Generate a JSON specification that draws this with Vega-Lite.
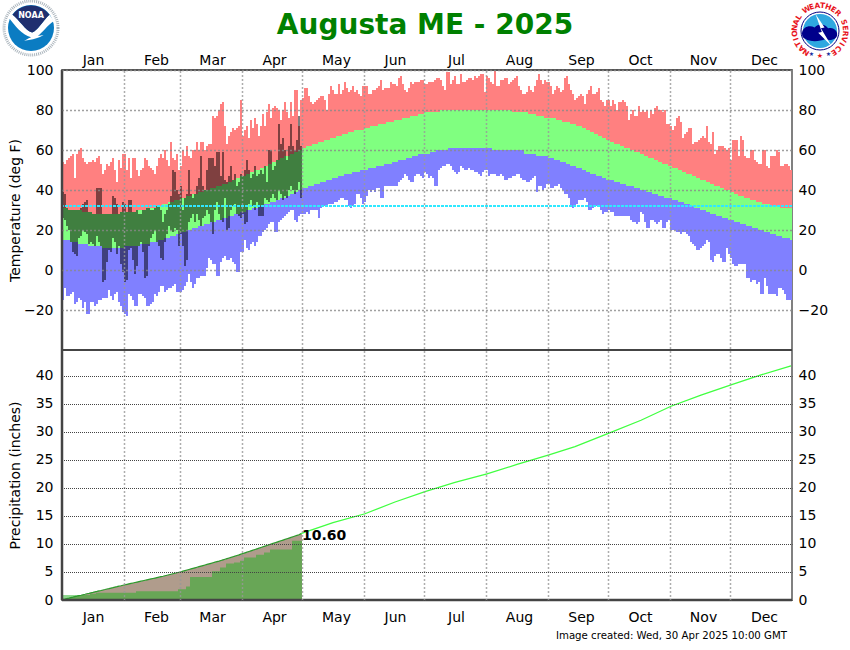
{
"$schema":"https://vega.github.io/schema/vega-lite/v6.json",
"autosize":{"type":"none"},
"width":730,"height":530,
"padding":{"left":62,"top":70,"right":58,"bottom":50},
"background":"white",
"title":{"text":"Augusta ME - 2025","anchor":"middle","frame":"group","fontSize":28,"fontWeight":"bold","font":"DejaVu Sans","color":"#008000","offset":-45,"dx":-2},
"config":{"font":"DejaVu Sans","view":{"stroke":"#808080","strokeWidth":2},"axis":{"labelFontSize":14,"labelColor":"#000000","titleFontSize":14,"titleFontWeight":"normal","titleColor":"#000000","domain":false,"ticks":false,"labelFlush":false,"labelOverlap":false}},
"datasets":{
"temps":[
{"d":1,"rh":54,"nh":31,"nl":15,"rl":-15},{"d":2,"rh":53,"nh":31,"nl":15,"rl":-9},{"d":3,"rh":55,"nh":31,"nl":15,"rl":-13},{"d":4,"rh":56,"nh":30,"nl":15,"rl":-13},{"d":5,"rh":57,"nh":30,"nl":14,"rl":-12},{"d":6,"rh":58,"nh":30,"nl":14,"rl":-11},{"d":7,"rh":46,"nh":30,"nl":14,"rl":-17},{"d":8,"rh":58,"nh":30,"nl":14,"rl":-16},{"d":9,"rh":60,"nh":30,"nl":13,"rl":-14},{"d":10,"rh":61,"nh":30,"nl":13,"rl":-15},
{"d":11,"rh":56,"nh":29,"nl":13,"rl":-19},{"d":12,"rh":54,"nh":29,"nl":13,"rl":-16},{"d":13,"rh":53,"nh":29,"nl":13,"rl":-22},{"d":14,"rh":54,"nh":29,"nl":12,"rl":-22},{"d":15,"rh":54,"nh":29,"nl":12,"rl":-16},{"d":16,"rh":55,"nh":28,"nl":12,"rl":-16},{"d":17,"rh":54,"nh":28,"nl":12,"rl":-18},{"d":18,"rh":56,"nh":28,"nl":12,"rl":-17},{"d":19,"rh":57,"nh":28,"nl":12,"rl":-15},{"d":20,"rh":53,"nh":28,"nl":12,"rl":-15},
{"d":21,"rh":48,"nh":28,"nl":11,"rl":-14},{"d":22,"rh":50,"nh":28,"nl":11,"rl":-14},{"d":23,"rh":53,"nh":28,"nl":11,"rl":-14},{"d":24,"rh":52,"nh":28,"nl":11,"rl":-10},{"d":25,"rh":54,"nh":28,"nl":11,"rl":-13},{"d":26,"rh":56,"nh":28,"nl":11,"rl":-15},{"d":27,"rh":50,"nh":28,"nl":11,"rl":-12},{"d":28,"rh":44,"nh":28,"nl":11,"rl":-11},{"d":29,"rh":55,"nh":28,"nl":11,"rl":-16},{"d":30,"rh":51,"nh":29,"nl":11,"rl":-18},{"d":31,"rh":58,"nh":29,"nl":11,"rl":-21},
{"d":32,"rh":58,"nh":29,"nl":12,"rl":-22},{"d":33,"rh":50,"nh":29,"nl":12,"rl":-23},{"d":34,"rh":56,"nh":29,"nl":12,"rl":-12},{"d":35,"rh":46,"nh":29,"nl":12,"rl":-13},{"d":36,"rh":56,"nh":29,"nl":12,"rl":-15},{"d":37,"rh":56,"nh":29,"nl":12,"rl":-18},{"d":38,"rh":50,"nh":30,"nl":12,"rl":-18},{"d":39,"rh":47,"nh":30,"nl":12,"rl":-12},{"d":40,"rh":50,"nh":30,"nl":13,"rl":-12},{"d":41,"rh":51,"nh":30,"nl":13,"rl":-13},
{"d":42,"rh":56,"nh":30,"nl":13,"rl":-14},{"d":43,"rh":55,"nh":31,"nl":13,"rl":-18},{"d":44,"rh":52,"nh":31,"nl":13,"rl":-18},{"d":45,"rh":51,"nh":31,"nl":14,"rl":-17},{"d":46,"rh":50,"nh":31,"nl":14,"rl":-16},{"d":47,"rh":48,"nh":31,"nl":14,"rl":-12},{"d":48,"rh":52,"nh":32,"nl":14,"rl":-13},{"d":49,"rh":56,"nh":32,"nl":15,"rl":-11},{"d":50,"rh":58,"nh":32,"nl":15,"rl":-8},{"d":51,"rh":56,"nh":33,"nl":15,"rl":-8},
{"d":52,"rh":60,"nh":33,"nl":16,"rl":-11},{"d":53,"rh":55,"nh":33,"nl":16,"rl":-10},{"d":54,"rh":52,"nh":34,"nl":16,"rl":-9},{"d":55,"rh":64,"nh":34,"nl":17,"rl":-9},{"d":56,"rh":56,"nh":34,"nl":17,"rl":-8},{"d":57,"rh":55,"nh":35,"nl":17,"rl":-7},{"d":58,"rh":58,"nh":35,"nl":18,"rl":-11},{"d":59,"rh":50,"nh":35,"nl":18,"rl":-11},
{"d":60,"rh":52,"nh":36,"nl":19,"rl":-11},{"d":61,"rh":60,"nh":36,"nl":19,"rl":-10},{"d":62,"rh":57,"nh":36,"nl":19,"rl":-8},{"d":63,"rh":62,"nh":37,"nl":20,"rl":-6},{"d":64,"rh":57,"nh":37,"nl":20,"rl":-2},{"d":65,"rh":56,"nh":37,"nl":20,"rl":-6},{"d":66,"rh":60,"nh":38,"nl":21,"rl":-9},{"d":67,"rh":60,"nh":38,"nl":21,"rl":-7},{"d":68,"rh":64,"nh":38,"nl":21,"rl":-4},{"d":69,"rh":60,"nh":39,"nl":22,"rl":-4},
{"d":70,"rh":64,"nh":39,"nl":22,"rl":-3},{"d":71,"rh":64,"nh":39,"nl":22,"rl":-3},{"d":72,"rh":60,"nh":40,"nl":23,"rl":-3},{"d":73,"rh":62,"nh":40,"nl":23,"rl":1},{"d":74,"rh":63,"nh":40,"nl":23,"rl":6},{"d":75,"rh":63,"nh":41,"nl":24,"rl":5},{"d":76,"rh":77,"nh":41,"nl":24,"rl":3},{"d":77,"rh":76,"nh":41,"nl":24,"rl":3},{"d":78,"rh":77,"nh":42,"nl":25,"rl":-3},{"d":79,"rh":80,"nh":42,"nl":25,"rl":-3},
{"d":80,"rh":83,"nh":42,"nl":25,"rl":4},{"d":81,"rh":84,"nh":43,"nl":26,"rl":6},{"d":82,"rh":72,"nh":43,"nl":26,"rl":7},{"d":83,"rh":63,"nh":43,"nl":26,"rl":5},{"d":84,"rh":67,"nh":44,"nl":27,"rl":5},{"d":85,"rh":69,"nh":44,"nl":27,"rl":6},{"d":86,"rh":71,"nh":45,"nl":27,"rl":4},{"d":87,"rh":70,"nh":45,"nl":28,"rl":3},{"d":88,"rh":71,"nh":46,"nl":28,"rl":-1},{"d":89,"rh":72,"nh":46,"nl":28,"rl":-1},{"d":90,"rh":85,"nh":47,"nl":29,"rl":9},
{"d":91,"rh":67,"nh":47,"nl":29,"rl":9},{"d":92,"rh":70,"nh":47,"nl":29,"rl":15},{"d":93,"rh":72,"nh":48,"nl":30,"rl":11},{"d":94,"rh":66,"nh":48,"nl":30,"rl":10},{"d":95,"rh":75,"nh":49,"nl":30,"rl":13},{"d":96,"rh":71,"nh":49,"nl":31,"rl":14},{"d":97,"rh":76,"nh":50,"nl":31,"rl":12},{"d":98,"rh":73,"nh":50,"nl":31,"rl":14},{"d":99,"rh":67,"nh":50,"nl":32,"rl":17},{"d":100,"rh":72,"nh":51,"nl":32,"rl":17},
{"d":101,"rh":78,"nh":51,"nl":32,"rl":19},{"d":102,"rh":72,"nh":52,"nl":33,"rl":20},{"d":103,"rh":79,"nh":52,"nl":33,"rl":21},{"d":104,"rh":83,"nh":53,"nl":33,"rl":23},{"d":105,"rh":76,"nh":53,"nl":34,"rl":24},{"d":106,"rh":81,"nh":54,"nl":34,"rl":24},{"d":107,"rh":82,"nh":54,"nl":34,"rl":19},{"d":108,"rh":81,"nh":55,"nl":35,"rl":19},{"d":109,"rh":80,"nh":55,"nl":35,"rl":24},{"d":110,"rh":75,"nh":56,"nl":36,"rl":25},
{"d":111,"rh":80,"nh":56,"nl":36,"rl":26},{"d":112,"rh":84,"nh":57,"nl":36,"rl":27},{"d":113,"rh":79,"nh":57,"nl":37,"rl":28},{"d":114,"rh":76,"nh":57,"nl":37,"rl":29},{"d":115,"rh":84,"nh":58,"nl":38,"rl":30},{"d":116,"rh":77,"nh":58,"nl":38,"rl":30},{"d":117,"rh":90,"nh":59,"nl":39,"rl":25},{"d":118,"rh":90,"nh":59,"nl":39,"rl":24},{"d":119,"rh":72,"nh":60,"nl":40,"rl":27},{"d":120,"rh":85,"nh":60,"nl":40,"rl":28},
{"d":121,"rh":86,"nh":61,"nl":41,"rl":28},{"d":122,"rh":91,"nh":61,"nl":41,"rl":28},{"d":123,"rh":91,"nh":62,"nl":41,"rl":29},{"d":124,"rh":87,"nh":62,"nl":42,"rl":28},{"d":125,"rh":84,"nh":62,"nl":42,"rl":30},{"d":126,"rh":83,"nh":63,"nl":42,"rl":30},{"d":127,"rh":84,"nh":63,"nl":43,"rl":30},{"d":128,"rh":85,"nh":63,"nl":43,"rl":30},{"d":129,"rh":86,"nh":64,"nl":43,"rl":26},{"d":130,"rh":87,"nh":64,"nl":44,"rl":31},
{"d":131,"rh":87,"nh":64,"nl":44,"rl":32},{"d":132,"rh":85,"nh":65,"nl":44,"rl":32},{"d":133,"rh":80,"nh":65,"nl":45,"rl":32},{"d":134,"rh":88,"nh":65,"nl":45,"rl":33},{"d":135,"rh":92,"nh":66,"nl":45,"rl":33},{"d":136,"rh":90,"nh":66,"nl":46,"rl":33},{"d":137,"rh":88,"nh":66,"nl":46,"rl":34},{"d":138,"rh":88,"nh":67,"nl":46,"rl":34},{"d":139,"rh":93,"nh":67,"nl":47,"rl":35},{"d":140,"rh":88,"nh":67,"nl":47,"rl":36},
{"d":141,"rh":90,"nh":68,"nl":47,"rl":36},{"d":142,"rh":94,"nh":68,"nl":48,"rl":35},{"d":143,"rh":91,"nh":68,"nl":48,"rl":35},{"d":144,"rh":89,"nh":69,"nl":48,"rl":32},{"d":145,"rh":90,"nh":69,"nl":48,"rl":31},{"d":146,"rh":92,"nh":69,"nl":49,"rl":32},{"d":147,"rh":89,"nh":70,"nl":49,"rl":33},{"d":148,"rh":90,"nh":70,"nl":49,"rl":38},{"d":149,"rh":88,"nh":70,"nl":49,"rl":38},{"d":150,"rh":87,"nh":70,"nl":50,"rl":36},{"d":151,"rh":92,"nh":70,"nl":50,"rl":33},
{"d":152,"rh":92,"nh":71,"nl":50,"rl":34},{"d":153,"rh":92,"nh":71,"nl":50,"rl":37},{"d":154,"rh":88,"nh":71,"nl":51,"rl":40},{"d":155,"rh":88,"nh":72,"nl":51,"rl":39},{"d":156,"rh":90,"nh":72,"nl":51,"rl":40},{"d":157,"rh":90,"nh":72,"nl":51,"rl":39},{"d":158,"rh":91,"nh":72,"nl":52,"rl":41},{"d":159,"rh":92,"nh":73,"nl":52,"rl":41},{"d":160,"rh":95,"nh":73,"nl":52,"rl":36},{"d":161,"rh":90,"nh":73,"nl":52,"rl":36},
{"d":162,"rh":91,"nh":73,"nl":53,"rl":42},{"d":163,"rh":91,"nh":74,"nl":53,"rl":42},{"d":164,"rh":91,"nh":74,"nl":53,"rl":42},{"d":165,"rh":94,"nh":74,"nl":53,"rl":42},{"d":166,"rh":93,"nh":74,"nl":54,"rl":42},{"d":167,"rh":93,"nh":75,"nl":54,"rl":42},{"d":168,"rh":92,"nh":75,"nl":54,"rl":42},{"d":169,"rh":96,"nh":75,"nl":55,"rl":44},{"d":170,"rh":97,"nh":75,"nl":55,"rl":45},{"d":171,"rh":93,"nh":76,"nl":55,"rl":46},
{"d":172,"rh":90,"nh":76,"nl":55,"rl":48},{"d":173,"rh":89,"nh":76,"nl":56,"rl":47},{"d":174,"rh":91,"nh":76,"nl":56,"rl":45},{"d":175,"rh":94,"nh":77,"nl":56,"rl":44},{"d":176,"rh":93,"nh":77,"nl":57,"rl":44},{"d":177,"rh":94,"nh":77,"nl":57,"rl":47},{"d":178,"rh":94,"nh":77,"nl":57,"rl":48},{"d":179,"rh":94,"nh":78,"nl":58,"rl":48},{"d":180,"rh":95,"nh":78,"nl":58,"rl":47},{"d":181,"rh":95,"nh":78,"nl":58,"rl":46},
{"d":182,"rh":93,"nh":79,"nl":58,"rl":49},{"d":183,"rh":93,"nh":79,"nl":58,"rl":48},{"d":184,"rh":94,"nh":79,"nl":58,"rl":46},{"d":185,"rh":94,"nh":79,"nl":59,"rl":47},{"d":186,"rh":94,"nh":79,"nl":59,"rl":46},{"d":187,"rh":95,"nh":79,"nl":59,"rl":42},{"d":188,"rh":96,"nh":79,"nl":60,"rl":42},{"d":189,"rh":96,"nh":79,"nl":60,"rl":50},{"d":190,"rh":95,"nh":80,"nl":60,"rl":51},{"d":191,"rh":92,"nh":80,"nl":60,"rl":52},
{"d":192,"rh":90,"nh":80,"nl":60,"rl":52},{"d":193,"rh":99,"nh":80,"nl":60,"rl":53},{"d":194,"rh":99,"nh":80,"nl":61,"rl":53},{"d":195,"rh":93,"nh":80,"nl":61,"rl":52},{"d":196,"rh":95,"nh":80,"nl":61,"rl":50},{"d":197,"rh":97,"nh":80,"nl":61,"rl":49},{"d":198,"rh":93,"nh":80,"nl":61,"rl":48},{"d":199,"rh":93,"nh":80,"nl":61,"rl":49},{"d":200,"rh":98,"nh":80,"nl":61,"rl":52},{"d":201,"rh":94,"nh":80,"nl":61,"rl":51},
{"d":202,"rh":94,"nh":80,"nl":61,"rl":50},{"d":203,"rh":95,"nh":80,"nl":61,"rl":50},{"d":204,"rh":96,"nh":80,"nl":61,"rl":51},{"d":205,"rh":96,"nh":80,"nl":61,"rl":50},{"d":206,"rh":95,"nh":80,"nl":61,"rl":50},{"d":207,"rh":97,"nh":80,"nl":61,"rl":49},{"d":208,"rh":96,"nh":80,"nl":61,"rl":49},{"d":209,"rh":97,"nh":80,"nl":61,"rl":48},{"d":210,"rh":98,"nh":80,"nl":61,"rl":47},{"d":211,"rh":98,"nh":80,"nl":61,"rl":49},{"d":212,"rh":89,"nh":80,"nl":61,"rl":50},
{"d":213,"rh":97,"nh":80,"nl":61,"rl":50},{"d":214,"rh":96,"nh":80,"nl":61,"rl":47},{"d":215,"rh":94,"nh":80,"nl":61,"rl":48},{"d":216,"rh":93,"nh":80,"nl":60,"rl":48},{"d":217,"rh":100,"nh":80,"nl":60,"rl":48},{"d":218,"rh":92,"nh":80,"nl":60,"rl":47},{"d":219,"rh":92,"nh":80,"nl":60,"rl":47},{"d":220,"rh":95,"nh":80,"nl":60,"rl":48},{"d":221,"rh":95,"nh":80,"nl":60,"rl":47},{"d":222,"rh":96,"nh":80,"nl":60,"rl":45},
{"d":223,"rh":96,"nh":80,"nl":60,"rl":45},{"d":224,"rh":93,"nh":80,"nl":60,"rl":46},{"d":225,"rh":94,"nh":80,"nl":60,"rl":46},{"d":226,"rh":95,"nh":79,"nl":60,"rl":47},{"d":227,"rh":96,"nh":79,"nl":60,"rl":47},{"d":228,"rh":97,"nh":79,"nl":60,"rl":48},{"d":229,"rh":92,"nh":79,"nl":60,"rl":48},{"d":230,"rh":90,"nh":79,"nl":60,"rl":46},{"d":231,"rh":88,"nh":79,"nl":60,"rl":45},{"d":232,"rh":88,"nh":79,"nl":58,"rl":45},
{"d":233,"rh":89,"nh":79,"nl":58,"rl":44},{"d":234,"rh":92,"nh":78,"nl":58,"rl":44},{"d":235,"rh":90,"nh":78,"nl":58,"rl":45},{"d":236,"rh":89,"nh":78,"nl":58,"rl":46},{"d":237,"rh":92,"nh":78,"nl":58,"rl":47},{"d":238,"rh":95,"nh":77,"nl":57,"rl":39},{"d":239,"rh":98,"nh":77,"nl":57,"rl":42},{"d":240,"rh":95,"nh":77,"nl":57,"rl":42},{"d":241,"rh":93,"nh":77,"nl":57,"rl":40},{"d":242,"rh":95,"nh":76,"nl":57,"rl":41},{"d":243,"rh":94,"nh":76,"nl":57,"rl":43},
{"d":244,"rh":94,"nh":76,"nl":56,"rl":43},{"d":245,"rh":92,"nh":76,"nl":56,"rl":41},{"d":246,"rh":88,"nh":76,"nl":56,"rl":41},{"d":247,"rh":90,"nh":76,"nl":55,"rl":42},{"d":248,"rh":92,"nh":75,"nl":55,"rl":42},{"d":249,"rh":91,"nh":75,"nl":55,"rl":43},{"d":250,"rh":89,"nh":75,"nl":54,"rl":41},{"d":251,"rh":90,"nh":74,"nl":54,"rl":40},{"d":252,"rh":96,"nh":74,"nl":54,"rl":38},{"d":253,"rh":97,"nh":74,"nl":53,"rl":38},
{"d":254,"rh":93,"nh":74,"nl":53,"rl":36},{"d":255,"rh":90,"nh":73,"nl":52,"rl":32},{"d":256,"rh":88,"nh":73,"nl":52,"rl":31},{"d":257,"rh":85,"nh":73,"nl":52,"rl":32},{"d":258,"rh":86,"nh":72,"nl":51,"rl":33},{"d":259,"rh":87,"nh":72,"nl":51,"rl":35},{"d":260,"rh":88,"nh":72,"nl":51,"rl":35},{"d":261,"rh":87,"nh":71,"nl":50,"rl":35},{"d":262,"rh":83,"nh":71,"nl":50,"rl":36},{"d":263,"rh":88,"nh":70,"nl":49,"rl":34},
{"d":264,"rh":90,"nh":70,"nl":49,"rl":30},{"d":265,"rh":92,"nh":69,"nl":48,"rl":30},{"d":266,"rh":88,"nh":69,"nl":48,"rl":31},{"d":267,"rh":88,"nh":68,"nl":48,"rl":32},{"d":268,"rh":89,"nh":68,"nl":47,"rl":32},{"d":269,"rh":91,"nh":67,"nl":47,"rl":32},{"d":270,"rh":85,"nh":67,"nl":47,"rl":30},{"d":271,"rh":84,"nh":66,"nl":46,"rl":28},{"d":272,"rh":82,"nh":66,"nl":46,"rl":29},{"d":273,"rh":85,"nh":65,"nl":45,"rl":29},
{"d":274,"rh":85,"nh":65,"nl":45,"rl":30},{"d":275,"rh":82,"nh":64,"nl":45,"rl":29},{"d":276,"rh":85,"nh":64,"nl":45,"rl":29},{"d":277,"rh":83,"nh":63,"nl":44,"rl":27},{"d":278,"rh":80,"nh":63,"nl":44,"rl":27},{"d":279,"rh":84,"nh":63,"nl":44,"rl":27},{"d":280,"rh":84,"nh":62,"nl":43,"rl":27},{"d":281,"rh":85,"nh":62,"nl":43,"rl":27},{"d":282,"rh":84,"nh":61,"nl":43,"rl":27},{"d":283,"rh":82,"nh":61,"nl":42,"rl":27},
{"d":284,"rh":75,"nh":61,"nl":42,"rl":27},{"d":285,"rh":78,"nh":60,"nl":42,"rl":25},{"d":286,"rh":80,"nh":60,"nl":42,"rl":24},{"d":287,"rh":77,"nh":59,"nl":41,"rl":24},{"d":288,"rh":77,"nh":59,"nl":41,"rl":23},{"d":289,"rh":82,"nh":59,"nl":41,"rl":24},{"d":290,"rh":79,"nh":58,"nl":40,"rl":29},{"d":291,"rh":80,"nh":58,"nl":40,"rl":28},{"d":292,"rh":79,"nh":57,"nl":40,"rl":24},{"d":293,"rh":80,"nh":57,"nl":39,"rl":21},
{"d":294,"rh":76,"nh":56,"nl":39,"rl":21},{"d":295,"rh":80,"nh":56,"nl":39,"rl":25},{"d":296,"rh":78,"nh":56,"nl":38,"rl":25},{"d":297,"rh":81,"nh":55,"nl":38,"rl":24},{"d":298,"rh":82,"nh":55,"nl":38,"rl":23},{"d":299,"rh":80,"nh":54,"nl":37,"rl":24},{"d":300,"rh":80,"nh":54,"nl":37,"rl":25},{"d":301,"rh":79,"nh":53,"nl":37,"rl":21},{"d":302,"rh":80,"nh":53,"nl":36,"rl":21},{"d":303,"rh":73,"nh":53,"nl":36,"rl":24},{"d":304,"rh":73,"nh":52,"nl":36,"rl":25},
{"d":305,"rh":72,"nh":52,"nl":36,"rl":20},{"d":306,"rh":70,"nh":51,"nl":35,"rl":20},{"d":307,"rh":72,"nh":51,"nl":35,"rl":20},{"d":308,"rh":76,"nh":51,"nl":35,"rl":19},{"d":309,"rh":77,"nh":50,"nl":34,"rl":19},{"d":310,"rh":74,"nh":50,"nl":34,"rl":18},{"d":311,"rh":66,"nh":49,"nl":34,"rl":19},{"d":312,"rh":68,"nh":49,"nl":33,"rl":19},{"d":313,"rh":69,"nh":48,"nl":33,"rl":18},{"d":314,"rh":71,"nh":48,"nl":33,"rl":17},
{"d":315,"rh":71,"nh":48,"nl":32,"rl":14},{"d":316,"rh":63,"nh":47,"nl":32,"rl":13},{"d":317,"rh":64,"nh":47,"nl":31,"rl":12},{"d":318,"rh":64,"nh":46,"nl":31,"rl":10},{"d":319,"rh":65,"nh":46,"nl":31,"rl":10},{"d":320,"rh":66,"nh":45,"nl":30,"rl":11},{"d":321,"rh":67,"nh":45,"nl":30,"rl":12},{"d":322,"rh":66,"nh":45,"nl":30,"rl":13},{"d":323,"rh":72,"nh":44,"nl":29,"rl":15},{"d":324,"rh":64,"nh":44,"nl":29,"rl":14},
{"d":325,"rh":63,"nh":43,"nl":28,"rl":5},{"d":326,"rh":69,"nh":43,"nl":28,"rl":4},{"d":327,"rh":58,"nh":42,"nl":28,"rl":7},{"d":328,"rh":60,"nh":42,"nl":27,"rl":8},{"d":329,"rh":62,"nh":42,"nl":27,"rl":8},{"d":330,"rh":62,"nh":41,"nl":27,"rl":6},{"d":331,"rh":62,"nh":41,"nl":26,"rl":4},{"d":332,"rh":61,"nh":40,"nl":26,"rl":4},{"d":333,"rh":60,"nh":40,"nl":26,"rl":11},{"d":334,"rh":61,"nh":40,"nl":25,"rl":8},
{"d":335,"rh":55,"nh":39,"nl":25,"rl":6},{"d":336,"rh":65,"nh":39,"nl":25,"rl":3},{"d":337,"rh":65,"nh":38,"nl":24,"rl":2},{"d":338,"rh":65,"nh":38,"nl":24,"rl":2},{"d":339,"rh":57,"nh":37,"nl":24,"rl":3},{"d":340,"rh":67,"nh":37,"nl":23,"rl":3},{"d":341,"rh":65,"nh":37,"nl":23,"rl":3},{"d":342,"rh":57,"nh":36,"nl":23,"rl":3},{"d":343,"rh":56,"nh":36,"nl":22,"rl":-4},{"d":344,"rh":56,"nh":36,"nl":22,"rl":-4},
{"d":345,"rh":60,"nh":35,"nl":22,"rl":-6},{"d":346,"rh":60,"nh":35,"nl":21,"rl":-5},{"d":347,"rh":55,"nh":35,"nl":21,"rl":-5},{"d":348,"rh":54,"nh":34,"nl":21,"rl":-7},{"d":349,"rh":53,"nh":34,"nl":20,"rl":-6},{"d":350,"rh":53,"nh":34,"nl":20,"rl":-12},{"d":351,"rh":60,"nh":33,"nl":20,"rl":-12},{"d":352,"rh":60,"nh":33,"nl":19,"rl":-4},{"d":353,"rh":52,"nh":33,"nl":19,"rl":-8},{"d":354,"rh":51,"nh":33,"nl":19,"rl":-12},
{"d":355,"rh":57,"nh":32,"nl":18,"rl":-12},{"d":356,"rh":57,"nh":32,"nl":18,"rl":-12},{"d":357,"rh":57,"nh":32,"nl":18,"rl":-12},{"d":358,"rh":60,"nh":32,"nl":17,"rl":-13},{"d":359,"rh":59,"nh":32,"nl":17,"rl":-9},{"d":360,"rh":52,"nh":31,"nl":17,"rl":-9},{"d":361,"rh":52,"nh":31,"nl":16,"rl":-10},{"d":362,"rh":53,"nh":31,"nl":16,"rl":-12},{"d":363,"rh":53,"nh":31,"nl":16,"rl":-15},{"d":364,"rh":52,"nh":31,"nl":16,"rl":-15},{"d":365,"rh":50,"nh":31,"nl":15,"rl":-15}
],
"observed":[
{"d":1,"hi":39,"lo":26},{"d":2,"hi":38,"lo":25},{"d":3,"hi":31,"lo":22},{"d":4,"hi":30,"lo":20},{"d":5,"hi":30,"lo":14},{"d":6,"hi":30,"lo":9},{"d":7,"hi":30,"lo":8},{"d":8,"hi":30,"lo":7},{"d":9,"hi":30,"lo":16},{"d":10,"hi":31,"lo":17},
{"d":11,"hi":33,"lo":20},{"d":12,"hi":34,"lo":19},{"d":13,"hi":35,"lo":18},{"d":14,"hi":29,"lo":13},{"d":15,"hi":29,"lo":14},{"d":16,"hi":28,"lo":13},{"d":17,"hi":28,"lo":12},{"d":18,"hi":41,"lo":17},{"d":19,"hi":41,"lo":14},{"d":20,"hi":41,"lo":12},
{"d":21,"hi":28,"lo":-6},{"d":22,"hi":28,"lo":-5},{"d":23,"hi":28,"lo":4},{"d":24,"hi":28,"lo":10},{"d":25,"hi":28,"lo":9},{"d":26,"hi":37,"lo":16},{"d":27,"hi":36,"lo":14},{"d":28,"hi":33,"lo":8},{"d":29,"hi":28,"lo":12},{"d":30,"hi":29,"lo":3},{"d":31,"hi":34,"lo":-1},
{"d":32,"hi":33,"lo":-6},{"d":33,"hi":29,"lo":-5},{"d":34,"hi":35,"lo":10},{"d":35,"hi":35,"lo":11},{"d":36,"hi":29,"lo":5},{"d":37,"hi":29,"lo":-2},{"d":38,"hi":30,"lo":2},{"d":39,"hi":28,"lo":12},{"d":40,"hi":28,"lo":14},{"d":41,"hi":30,"lo":9},
{"d":42,"hi":30,"lo":-4},{"d":43,"hi":31,"lo":-3},{"d":44,"hi":31,"lo":12},{"d":45,"hi":30,"lo":16},{"d":46,"hi":30,"lo":18},{"d":47,"hi":31,"lo":20},{"d":48,"hi":32,"lo":14},{"d":49,"hi":32,"lo":12},{"d":50,"hi":30,"lo":6},{"d":51,"hi":24,"lo":5},
{"d":52,"hi":28,"lo":14},{"d":53,"hi":30,"lo":18},{"d":54,"hi":33,"lo":22},{"d":55,"hi":37,"lo":20},{"d":56,"hi":50,"lo":19},{"d":57,"hi":49,"lo":21},{"d":58,"hi":40,"lo":20},{"d":59,"hi":38,"lo":12},
{"d":60,"hi":42,"lo":18},{"d":61,"hi":30,"lo":12},{"d":62,"hi":36,"lo":2},{"d":63,"hi":38,"lo":5},{"d":64,"hi":50,"lo":24},{"d":65,"hi":38,"lo":26},{"d":66,"hi":36,"lo":28},{"d":67,"hi":38,"lo":24},{"d":68,"hi":42,"lo":28},{"d":69,"hi":46,"lo":25},
{"d":70,"hi":57,"lo":22},{"d":71,"hi":42,"lo":26},{"d":72,"hi":40,"lo":27},{"d":73,"hi":50,"lo":30},{"d":74,"hi":56,"lo":28},{"d":75,"hi":56,"lo":24},{"d":76,"hi":56,"lo":18},{"d":77,"hi":52,"lo":30},{"d":78,"hi":59,"lo":34},{"d":79,"hi":59,"lo":28},
{"d":80,"hi":47,"lo":25},{"d":81,"hi":59,"lo":24},{"d":82,"hi":45,"lo":36},{"d":83,"hi":44,"lo":20},{"d":84,"hi":47,"lo":21},{"d":85,"hi":52,"lo":30},{"d":86,"hi":45,"lo":32},{"d":87,"hi":48,"lo":33},{"d":88,"hi":42,"lo":28},{"d":89,"hi":44,"lo":27},{"d":90,"hi":48,"lo":26},
{"d":91,"hi":47,"lo":28},{"d":92,"hi":50,"lo":23},{"d":93,"hi":55,"lo":24},{"d":94,"hi":50,"lo":33},{"d":95,"hi":46,"lo":35},{"d":96,"hi":48,"lo":32},{"d":97,"hi":52,"lo":30},{"d":98,"hi":47,"lo":34},{"d":99,"hi":48,"lo":27},{"d":100,"hi":50,"lo":27},
{"d":101,"hi":48,"lo":27},{"d":102,"hi":52,"lo":36},{"d":103,"hi":44,"lo":35},{"d":104,"hi":60,"lo":34},{"d":105,"hi":60,"lo":36},{"d":106,"hi":50,"lo":38},{"d":107,"hi":52,"lo":36},{"d":108,"hi":55,"lo":35},{"d":109,"hi":73,"lo":40},{"d":110,"hi":63,"lo":38},
{"d":111,"hi":66,"lo":35},{"d":112,"hi":60,"lo":37},{"d":113,"hi":55,"lo":36},{"d":114,"hi":62,"lo":40},{"d":115,"hi":73,"lo":42},{"d":116,"hi":62,"lo":40},{"d":117,"hi":60,"lo":38},{"d":118,"hi":65,"lo":40},{"d":119,"hi":77,"lo":44},{"d":120,"hi":62,"lo":36}
],
"precip":[
{"d":1,"pn":0.09,"po":0.9},{"d":2,"pn":0.17,"po":0.9},{"d":3,"pn":0.26,"po":0.9},{"d":4,"pn":0.34,"po":0.9},{"d":5,"pn":0.43,"po":0.9},{"d":6,"pn":0.51,"po":0.9},{"d":7,"pn":0.6,"po":0.9},{"d":8,"pn":0.68,"po":0.9},{"d":9,"pn":0.77,"po":0.9},{"d":10,"pn":0.85,"po":0.9},
{"d":11,"pn":0.94,"po":0.9},{"d":12,"pn":1.02,"po":0.9},{"d":13,"pn":1.11,"po":0.9},{"d":14,"pn":1.19,"po":0.9},{"d":15,"pn":1.28,"po":1.1},{"d":16,"pn":1.36,"po":1.1},{"d":17,"pn":1.45,"po":1.1},{"d":18,"pn":1.53,"po":1.3},{"d":19,"pn":1.62,"po":1.3},{"d":20,"pn":1.7,"po":1.3},
{"d":21,"pn":1.79,"po":1.3},{"d":22,"pn":1.87,"po":1.3},{"d":23,"pn":1.96,"po":1.3},{"d":24,"pn":2.04,"po":1.3},{"d":25,"pn":2.13,"po":1.3},{"d":26,"pn":2.21,"po":1.3},{"d":27,"pn":2.3,"po":1.3},{"d":28,"pn":2.38,"po":1.3},{"d":29,"pn":2.47,"po":1.3},{"d":30,"pn":2.55,"po":1.3},{"d":31,"pn":2.64,"po":1.3},
{"d":32,"pn":2.72,"po":1.3},{"d":33,"pn":2.8,"po":1.3},{"d":34,"pn":2.88,"po":1.3},{"d":35,"pn":2.96,"po":1.3},{"d":36,"pn":3.04,"po":1.3},{"d":37,"pn":3.12,"po":1.3},{"d":38,"pn":3.2,"po":1.55},{"d":39,"pn":3.28,"po":1.55},{"d":40,"pn":3.36,"po":1.55},{"d":41,"pn":3.44,"po":1.55},
{"d":42,"pn":3.52,"po":1.55},{"d":43,"pn":3.6,"po":1.55},{"d":44,"pn":3.68,"po":1.55},{"d":45,"pn":3.76,"po":1.55},{"d":46,"pn":3.84,"po":1.55},{"d":47,"pn":3.92,"po":1.55},{"d":48,"pn":4.0,"po":1.55},{"d":49,"pn":4.08,"po":1.55},{"d":50,"pn":4.16,"po":1.55},{"d":51,"pn":4.24,"po":1.55},
{"d":52,"pn":4.33,"po":1.55},{"d":53,"pn":4.42,"po":1.55},{"d":54,"pn":4.51,"po":1.55},{"d":55,"pn":4.6,"po":1.55},{"d":56,"pn":4.69,"po":1.55},{"d":57,"pn":4.78,"po":1.55},{"d":58,"pn":4.87,"po":1.55},{"d":59,"pn":4.96,"po":1.9},
{"d":60,"pn":5.05,"po":1.9},{"d":61,"pn":5.15,"po":1.9},{"d":62,"pn":5.25,"po":1.9},{"d":63,"pn":5.35,"po":2.4},{"d":64,"pn":5.45,"po":2.4},{"d":65,"pn":5.55,"po":4.1},{"d":66,"pn":5.65,"po":4.1},{"d":67,"pn":5.75,"po":4.1},{"d":68,"pn":5.85,"po":4.1},{"d":69,"pn":5.95,"po":4.1},
{"d":70,"pn":6.05,"po":4.1},{"d":71,"pn":6.15,"po":4.1},{"d":72,"pn":6.25,"po":4.1},{"d":73,"pn":6.35,"po":4.1},{"d":74,"pn":6.45,"po":4.1},{"d":75,"pn":6.55,"po":4.1},{"d":76,"pn":6.65,"po":5.15},{"d":77,"pn":6.75,"po":5.15},{"d":78,"pn":6.85,"po":5.15},{"d":79,"pn":6.95,"po":5.15},
{"d":80,"pn":7.06,"po":5.8},{"d":81,"pn":7.17,"po":5.8},{"d":82,"pn":7.28,"po":5.8},{"d":83,"pn":7.39,"po":6.5},{"d":84,"pn":7.5,"po":6.5},{"d":85,"pn":7.61,"po":6.5},{"d":86,"pn":7.72,"po":6.5},{"d":87,"pn":7.83,"po":6.7},{"d":88,"pn":7.94,"po":6.7},{"d":89,"pn":8.05,"po":6.7},{"d":90,"pn":8.18,"po":7.0},
{"d":91,"pn":8.3,"po":7.0},{"d":92,"pn":8.42,"po":7.6},{"d":93,"pn":8.54,"po":7.6},{"d":94,"pn":8.66,"po":7.6},{"d":95,"pn":8.78,"po":7.6},{"d":96,"pn":8.9,"po":7.6},{"d":97,"pn":9.02,"po":7.6},{"d":98,"pn":9.14,"po":8.1},{"d":99,"pn":9.26,"po":8.1},{"d":100,"pn":9.38,"po":8.1},
{"d":101,"pn":9.5,"po":8.1},{"d":102,"pn":9.62,"po":8.5},{"d":103,"pn":9.74,"po":8.5},{"d":104,"pn":9.86,"po":8.5},{"d":105,"pn":9.98,"po":9.0},{"d":106,"pn":10.1,"po":9.0},{"d":107,"pn":10.22,"po":9.0},{"d":108,"pn":10.34,"po":9.0},{"d":109,"pn":10.46,"po":9.0},{"d":110,"pn":10.58,"po":9.0},
{"d":111,"pn":10.7,"po":9.0},{"d":112,"pn":10.82,"po":9.0},{"d":113,"pn":10.94,"po":9.0},{"d":114,"pn":11.06,"po":9.0},{"d":115,"pn":11.18,"po":9.0},{"d":116,"pn":11.3,"po":10.6},{"d":117,"pn":11.42,"po":10.6},{"d":118,"pn":11.54,"po":10.6},{"d":119,"pn":11.66,"po":10.6},{"d":120,"pn":11.85,"po":10.6}
],
"normalRest":[
{"d":120,"pn":11.85},{"d":121,"pn":12.0},{"d":136,"pn":13.8},{"d":152,"pn":15.4},{"d":167,"pn":17.5},{"d":182,"pn":19.35},{"d":197,"pn":21.0},{"d":213,"pn":22.5},{"d":228,"pn":24.2},{"d":244,"pn":25.9},{"d":257,"pn":27.4},{"d":274,"pn":29.8},{"d":290,"pn":32.1},{"d":305,"pn":34.6},{"d":320,"pn":36.6},{"d":335,"pn":38.4},{"d":350,"pn":40.2},{"d":365,"pn":41.8}
],
"nws":[
{"ch":"N","deg":-147},{"ch":"A","deg":-134},{"ch":"T","deg":-121},{"ch":"I","deg":-109},{"ch":"O","deg":-96},{"ch":"N","deg":-83},{"ch":"A","deg":-70},{"ch":"L","deg":-57},
{"ch":"W","deg":-32},{"ch":"E","deg":-19},{"ch":"A","deg":-6},{"ch":"T","deg":6},{"ch":"H","deg":19},{"ch":"E","deg":32},{"ch":"R","deg":45},
{"ch":"S","deg":70},{"ch":"E","deg":83},{"ch":"R","deg":96},{"ch":"V","deg":109},{"ch":"I","deg":121},{"ch":"C","deg":134},{"ch":"E","deg":147}
]
},
"layer":[
{
"resolve":{"axis":{"y":"independent","x":"independent"}},
"layer":[
{"data":{"name":"temps"},"mark":{"type":"bar","size":2,"color":"#ff8080"},"encoding":{"x":{"field":"d","type":"quantitative","scale":{"domain":[0.5,365.5],"nice":false,"zero":false,"padding":0},"axis":null},"y":{"field":"rh","type":"quantitative","scale":{"domain":[-40,100],"range":[280,0],"nice":false,"zero":false,"padding":0},"axis":null},"y2":{"field":"nh"}}},
{"data":{"name":"temps"},"mark":{"type":"bar","size":2,"color":"#80ff80"},"encoding":{"x":{"field":"d","type":"quantitative","axis":null},"y":{"field":"nh","type":"quantitative","axis":null},"y2":{"field":"nl"}}},
{"data":{"name":"temps"},"mark":{"type":"bar","size":2,"color":"#8080ff"},"encoding":{"x":{"field":"d","type":"quantitative","axis":null},"y":{"field":"nl","type":"quantitative","axis":null},"y2":{"field":"rl"}}},
{"data":{"name":"observed"},"mark":{"type":"bar","size":2,"color":"#000000","opacity":0.5},"encoding":{"x":{"field":"d","type":"quantitative","axis":null},"y":{"field":"hi","type":"quantitative","axis":null},"y2":{"field":"lo"}}},
{"data":{"values":[{"t":32}]},"mark":{"type":"rule","color":"#30e8ff","strokeWidth":2,"strokeDash":[3,1]},"encoding":{"y":{"field":"t","type":"quantitative","axis":null}}},
{"data":{"values":[{"t":100}]},"mark":{"type":"rule","color":"#555555","strokeWidth":2},"encoding":{"y":{"field":"t","type":"quantitative","axis":null}}},
{"data":{"values":[{"t":-40}]},"mark":{"type":"rule","color":"#444444","strokeWidth":2},"encoding":{"y":{"field":"t","type":"quantitative","axis":{"orient":"left","values":[-20,0,20,40,60,80,100],"grid":true,"gridColor":"#888888","gridOpacity":0.8,"gridWidth":1.5,"gridDash":[2,2],"gridDashOffset":0.5,"zindex":1,"labelPadding":9,"title":"Temperature (deg F)","titleX":-40}}}},
{"data":{"values":[{"t":-40}]},"mark":{"type":"rule","opacity":0},"encoding":{"y":{"field":"t","type":"quantitative","axis":{"orient":"right","values":[-20,0,20,40,60,80,100],"grid":false,"labelPadding":6,"title":null}}}},
{"data":{"values":[{"m":31.5}]},"mark":{"type":"rule","opacity":0},"encoding":{"x":{"field":"m","type":"quantitative","axis":{"orient":"bottom","values":[31.5,59.5,90.5,120.5,151.5,181.5,212.5,243.5,273.5,304.5,334.5],"labels":false,"grid":true,"gridColor":"#999999","gridOpacity":0.8,"gridWidth":1.5,"gridDash":[2,2],"gridDashOffset":0.5,"zindex":1,"title":null}}}},
{"data":{"values":[{"m":16}]},"mark":{"type":"rule","opacity":0},"encoding":{"x":{"field":"m","type":"quantitative","axis":{"orient":"top","values":[16,47.5,75.5,106.5,137.5,167,197.5,229,260,289.5,321,351.5],"labelExpr":"{'16':'Jan','47.5':'Feb','75.5':'Mar','106.5':'Apr','137.5':'May','167':'Jun','197.5':'Jul','229':'Aug','260':'Sep','289.5':'Oct','321':'Nov','351.5':'Dec'}[datum.value]","labelPadding":3,"grid":false,"title":null}}}},
{"data":{"values":[{"m":16}]},"mark":{"type":"rule","opacity":0},"encoding":{"x":{"field":"m","type":"quantitative","axis":{"orient":"bottom","values":[16,47.5,75.5,106.5,137.5,167,197.5,229,260,289.5,321,351.5],"labelExpr":"{'16':'Jan','47.5':'Feb','75.5':'Mar','106.5':'Apr','137.5':'May','167':'Jun','197.5':'Jul','229':'Aug','260':'Sep','289.5':'Oct','321':'Nov','351.5':'Dec'}[datum.value]","labelPadding":10,"grid":false,"title":null}}}},
{"data":{"values":[{}]},"mark":{"type":"point","filled":false,"size":2916,"stroke":"#aab4bc","strokeWidth":3,"strokeDash":[1,1],"opacity":1},"encoding":{"x":{"datum":-15,"axis":null},"y":{"datum":121,"axis":null}}},
{"data":{"values":[{}]},"mark":{"type":"point","filled":true,"size":2116,"color":"#0b7cc2","opacity":1},"encoding":{"x":{"datum":-15,"axis":null},"y":{"datum":121,"axis":null}}},
{"data":{"values":[{}]},"mark":{"type":"point","filled":true,"size":2116,"color":"#ffffff","opacity":1,"shape":"M-1,-0.5 L-0.8,-0.58 C-0.5,-0.35 -0.25,0.1 0.05,0.2 C0.3,0.1 0.5,-0.3 0.8,-0.58 L1,-0.3 C0.7,-0.1 0.5,0.2 0.3,0.35 L0.55,0.3 C0.35,0.42 0.1,0.5 -0.3,0.55 C-0.1,0.45 0,0.4 0,0.4 C-0.4,0.3 -0.7,-0.1 -1,-0.5Z"},"encoding":{"x":{"datum":-15,"axis":null},"y":{"datum":121,"axis":null}}},
{"data":{"values":[{}]},"mark":{"type":"point","filled":true,"size":2116,"color":"#1f2f6f","opacity":1,"shape":"M-0.8,-0.58 A1,1 0 0 1 0.8,-0.58 C0.5,-0.3 0.3,0.1 0.05,0.2 C-0.25,0.1 -0.5,-0.35 -0.8,-0.58Z"},"encoding":{"x":{"datum":-15,"axis":null},"y":{"datum":121,"axis":null}}},
{"data":{"values":[{}]},"mark":{"type":"text","text":"NOAA","fontSize":8,"fontWeight":"bold","color":"#ffffff"},"encoding":{"x":{"datum":-15,"axis":null},"y":{"datum":127,"axis":null}}},
{"data":{"values":[{}]},"mark":{"type":"point","filled":true,"size":1444,"color":"#ffffff","stroke":"#000080","strokeWidth":1,"opacity":1},"encoding":{"x":{"datum":379.5,"axis":null},"y":{"datum":119.5,"axis":null}}},
{"data":{"values":[{}]},"mark":{"type":"point","filled":true,"size":1156,"color":"#2fa8e0","opacity":1},"encoding":{"x":{"datum":379.5,"axis":null},"y":{"datum":119.5,"axis":null}}},
{"data":{"values":[{}]},"mark":{"type":"point","filled":true,"size":1296,"color":"#00008b","opacity":1,"shape":"M-1,0.15 C-1,-0.2 -0.6,-0.35 -0.3,-0.2 C-0.1,-0.45 0.3,-0.4 0.45,-0.15 C0.75,-0.25 1,0 0.95,0.25 C0.9,0.5 0.5,0.55 0.3,0.45 C0,0.6 -0.6,0.6 -0.8,0.45 C-0.95,0.4 -1,0.3 -1,0.15Z"},"encoding":{"x":{"datum":379.5,"axis":null},"y":{"datum":119.5,"axis":null}}},
{"data":{"values":[{}]},"mark":{"type":"point","filled":true,"size":1296,"color":"#ffffff","opacity":1,"shape":"M-0.25,-0.95 L0.25,-0.2 L0.05,-0.15 L0.65,0.85 L-0.1,0.1 L0.1,0.05 Z"},"encoding":{"x":{"datum":379.5,"axis":null},"y":{"datum":119.5,"axis":null}}},
{"data":{"name":"nws"},"transform":[{"calculate":"datum.deg*PI/180","as":"rad"}],"mark":{"type":"text","radius":25,"fontSize":7.5,"fontWeight":"bold","color":"#e8141c","baseline":"middle","align":"center"},"encoding":{"x":{"datum":379.5,"axis":null},"y":{"datum":119.5,"axis":null},"theta":{"field":"rad","type":"quantitative","scale":null},"angle":{"field":"deg","type":"quantitative","scale":null},"text":{"field":"ch"}}},
{"data":{"values":[{"ch":"★","deg":160},{"ch":"★","deg":200}]},"transform":[{"calculate":"datum.deg*PI/180","as":"rad"}],"mark":{"type":"text","radius":25,"fontSize":6,"color":"#2030a0","baseline":"middle","align":"center"},"encoding":{"x":{"datum":379.5,"axis":null},"y":{"datum":119.5,"axis":null},"theta":{"field":"rad","type":"quantitative","scale":null},"text":{"field":"ch"}}},
{"data":{"values":[{"ch":"★","deg":180}]},"transform":[{"calculate":"datum.deg*PI/180","as":"rad"}],"mark":{"type":"text","radius":25,"fontSize":7,"color":"#e8141c","baseline":"middle","align":"center"},"encoding":{"x":{"datum":379.5,"axis":null},"y":{"datum":119.5,"axis":null},"theta":{"field":"rad","type":"quantitative","scale":null},"text":{"field":"ch"}}}
]
},
{
"resolve":{"axis":{"y":"independent"}},
"layer":[
{"data":{"name":"precip"},"mark":{"type":"bar","size":2,"color":"#b09c8c"},"encoding":{"x":{"field":"d","type":"quantitative","axis":null},"y":{"field":"pn","type":"quantitative","scale":{"domain":[0,44.64],"range":[530,280],"nice":false,"zero":false,"padding":0},"axis":null},"y2":{"datum":0}}},
{"data":{"name":"precip"},"mark":{"type":"bar","size":2,"color":"#20b020","opacity":0.5},"encoding":{"x":{"field":"d","type":"quantitative","axis":null},"y":{"field":"po","type":"quantitative","axis":null},"y2":{"datum":0}}},
{"data":{"name":"precip"},"mark":{"type":"line","color":"#2a9a2a","strokeWidth":1.2},"encoding":{"x":{"field":"d","type":"quantitative","axis":null},"y":{"field":"pn","type":"quantitative","axis":null}}},
{"data":{"name":"normalRest"},"mark":{"type":"line","color":"#40ff40","strokeWidth":1.3},"encoding":{"x":{"field":"d","type":"quantitative","axis":null},"y":{"field":"pn","type":"quantitative","axis":null}}},
{"data":{"values":[{"d":120.5,"total":10.6}]},"mark":{"type":"text","align":"left","baseline":"middle","dx":0,"dy":-5,"fontSize":14,"fontWeight":"bold","color":"#000000"},"encoding":{"x":{"field":"d","type":"quantitative","axis":null},"y":{"field":"total","type":"quantitative","axis":null},"text":{"field":"total","format":".2f"}}},
{"data":{"values":[{"e":0.5}]},"mark":{"type":"rule","color":"#444444","strokeWidth":2.5},"encoding":{"x":{"field":"e","type":"quantitative","axis":null}}},
{"data":{"values":[{"t":0}]},"mark":{"type":"rule","color":"#444444","strokeWidth":2.5},"encoding":{"y":{"field":"t","type":"quantitative","axis":{"orient":"left","values":[0,5,10,15,20,25,30,35,40],"grid":true,"gridColor":"#444444","gridWidth":1,"gridDash":[1,1],"gridDashOffset":0.5,"zindex":1,"labelPadding":9,"title":"Precipitation (inches)","titleX":-40}}}},
{"data":{"values":[{"t":0}]},"mark":{"type":"rule","opacity":0},"encoding":{"y":{"field":"t","type":"quantitative","axis":{"orient":"right","values":[0,5,10,15,20,25,30,35,40],"grid":false,"labelPadding":6,"title":null}}}},
{"data":{"values":[{"d":363,"v":-6.43}]},"mark":{"type":"text","text":"Image created: Wed, 30 Apr 2025 10:00 GMT","align":"right","baseline":"middle","fontSize":10.2,"color":"#000000"},"encoding":{"x":{"field":"d","type":"quantitative","axis":null},"y":{"field":"v","type":"quantitative","axis":null}}}
]
}
],
"resolve":{"scale":{"y":"independent"},"axis":{"x":"independent","y":"independent"}}
}
